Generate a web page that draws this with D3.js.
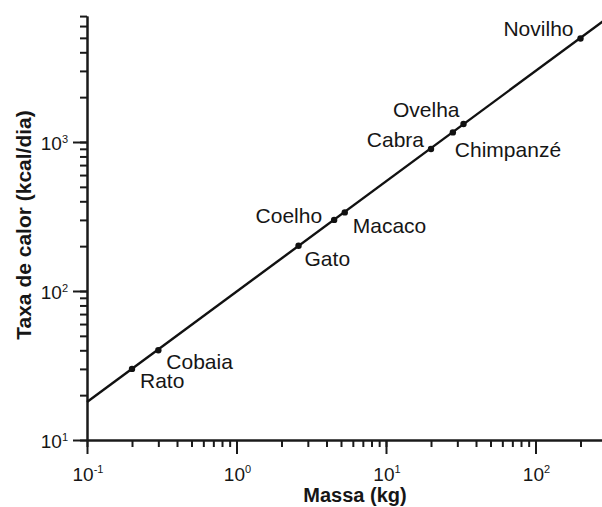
<!DOCTYPE html>
<html><head><meta charset="utf-8">
<script src="https://cdn.jsdelivr.net/npm/d3@7/dist/d3.min.js"></script>
<style>
html,body{margin:0;padding:0;background:#fff;overflow:hidden}
svg{display:block}
text{font-family:"Liberation Sans",Arial,Helvetica,sans-serif;fill:#161616}
</style></head>
<body>
<svg id="chart" width="602" height="507"></svg>
<script>
// ---- data ----
const animals  = ["Rato","Cobaia","Gato","Coelho","Macaco","Cabra","Chimpanzé","Ovelha","Novilho"];
const massKg   = [0.2, 0.3, 2.6, 4.5, 5.3, 20, 28, 33, 200];
const heatKcal = [30, 40, 201, 300, 337, 898, 1160, 1320, 4950];
const fitMass  = [0.1, 300];
const fitHeat  = [18, 6750];
const xMajorTicks = [0.1, 1, 10, 100];
const xMajorExp   = ["-1", "0", "1", "2"];
const yMajorTicks = [10, 100, 1000];
const yMajorExp   = ["1", "2", "3"];
const xTitle = "Massa (kg)";
const yTitle = "Taxa de calor (kcal/dia)";

// ---- label placement (style) ----
const labelPlace = [
  {dx: 8,  dy: 19, anchor: "start"},
  {dx: 8,  dy: 19, anchor: "start"},
  {dx: 6,  dy: 20, anchor: "start"},
  {dx: -12,dy: 3,  anchor: "end"},
  {dx: 8,  dy: 21, anchor: "start"},
  {dx: -7, dy: -2, anchor: "end"},
  {dx: 2,  dy: 25, anchor: "start"},
  {dx: -4, dy: -7, anchor: "end"},
  {dx: -7, dy: -3, anchor: "end"}
];

const svg = d3.select("#chart");
const x = d3.scaleLog().domain([0.1, 300]).range([87, 87 + 149.5 * Math.log10(3000)]);
const y = d3.scaleLog().domain([10, 7000]).range([440, 440 - 149 * Math.log10(700)]);

function minorTicks(dom) {
  const out = [];
  for (let e = -3; e <= 5; e++) {
    for (let k = 1; k <= 9; k++) {
      const v = k * Math.pow(10, e);
      if (v >= dom[0] * 0.9999 && v <= dom[1] * 1.0001) out.push(+v.toPrecision(6));
    }
  }
  return out;
}

// x axis
const gx = svg.append("g").attr("transform", "translate(0,440)");
gx.call(d3.axisBottom(x).tickValues(minorTicks(x.domain())).tickSize(7).tickSizeOuter(0).tickFormat(""));
gx.append("g").call(d3.axisBottom(x).tickValues(xMajorTicks).tickSize(14).tickSizeOuter(0).tickFormat(""));
gx.selectAll("path,line").attr("stroke", "#1a1a1a").attr("stroke-width", 2);

// y axis
const gy = svg.append("g").attr("transform", "translate(87,0)");
gy.call(d3.axisLeft(y).tickValues(minorTicks(y.domain())).tickSize(7).tickSizeOuter(0).tickFormat(""));
gy.append("g").call(d3.axisLeft(y).tickValues(yMajorTicks).tickSize(14).tickSizeOuter(0).tickFormat(""));
gy.selectAll("path,line").attr("stroke", "#1a1a1a").attr("stroke-width", 2);

// x tick labels
xMajorTicks.forEach((v, i) => {
  const t = svg.append("text").attr("x", x(v) + 1).attr("y", 481)
    .attr("text-anchor", "middle").attr("font-size", 19);
  t.append("tspan").text("10");
  t.append("tspan").attr("dy", -8).attr("font-size", 11).text(xMajorExp[i]);
});
// y tick labels
yMajorTicks.forEach((v, i) => {
  const t = svg.append("text").attr("x", 68).attr("y", y(v) + 8)
    .attr("text-anchor", "end").attr("font-size", 19);
  t.append("tspan").text("10");
  t.append("tspan").attr("dy", -7).attr("font-size", 11).text(yMajorExp[i]);
});

// titles
svg.append("text").attr("x", 355).attr("y", 502).attr("text-anchor", "middle")
  .attr("font-size", 20).attr("font-weight", "bold").text(xTitle);
svg.append("text").attr("transform", "translate(31,225) rotate(-90)").attr("text-anchor", "middle")
  .attr("font-size", 21).attr("font-weight", "bold").text(yTitle);

// fit line
const fit = fitMass.map((m, i) => [m, fitHeat[i]]);
svg.append("path").datum(fit)
  .attr("d", d3.line().x(d => x(d[0])).y(d => y(d[1])))
  .attr("fill", "none").attr("stroke", "#111").attr("stroke-width", 2.4);

// points
const pts = animals.map((a, i) => ({name: a, m: massKg[i], q: heatKcal[i], p: labelPlace[i]}));
svg.selectAll("circle.pt").data(pts).join("circle").attr("class", "pt")
  .attr("cx", d => x(d.m)).attr("cy", d => y(d.q)).attr("r", 3.2).attr("fill", "#111");
svg.selectAll("text.lbl").data(pts).join("text").attr("class", "lbl")
  .attr("x", d => x(d.m) + d.p.dx).attr("y", d => y(d.q) + d.p.dy)
  .attr("text-anchor", d => d.p.anchor).attr("font-size", 21).text(d => d.name);
</script>
</body></html>
